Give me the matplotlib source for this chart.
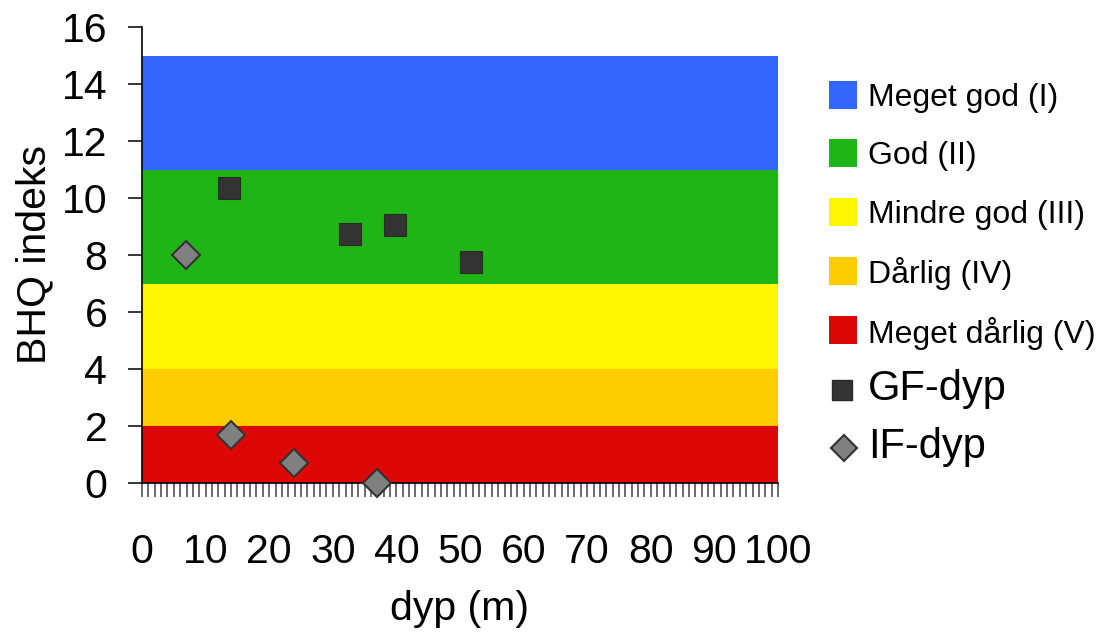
import matplotlib
matplotlib.use("Agg")
import matplotlib.pyplot as plt
from matplotlib.patches import Rectangle
from matplotlib.lines import Line2D

plt.rcParams['font.family'] = ['Liberation Sans', 'DejaVu Sans']

# Quality classes (bands)
class_labels = ["Meget god (I)", "God (II)", "Mindre god (III)", "Dårlig (IV)", "Meget dårlig (V)"]
class_low = [11, 7, 4, 2, 0]
class_high = [15, 11, 7, 4, 2]
class_colors = ["#3366FF", "#1FB516", "#FFF500", "#FFCC00", "#DD0806"]

# Series
gf_x = [13.7, 32.7, 39.8, 51.7]
gf_y = [10.35, 8.74, 9.05, 7.75]
if_x = [6.9, 14.0, 23.9, 36.9]
if_y = [8.0, 1.68, 0.70, 0.0]

W, H = 1102, 632
fig = plt.figure(figsize=(W / 100, H / 100), dpi=100)
ax = fig.add_axes([142 / W, 1 - 483 / H, (778 - 142) / W, (483 - 27) / H])

for lo, hi, c in zip(class_low, class_high, class_colors):
    ax.axhspan(lo, hi, color=c, lw=0, zorder=0)

ax.plot(gf_x, gf_y, ls='none', marker='s', ms=16, mfc='#333333', mec='#2a2a2a',
        mew=0.8, zorder=3, clip_on=False)
ax.plot(if_x, if_y, ls='none', marker='D', ms=14, mfc='#808080', mec='#333333',
        mew=1.5, zorder=3, clip_on=False)

ax.set_xlim(0, 100)
ax.set_ylim(0, 16)
ax.set_xticks(range(0, 101, 10))
ax.set_xticks(range(0, 101, 1), minor=True)
ax.set_yticks(range(0, 17, 2))

for s in ['top', 'right']:
    ax.spines[s].set_visible(False)
for s in ['left', 'bottom']:
    ax.spines[s].set_color('black')
    ax.spines[s].set_linewidth(1.2)

ax.tick_params(axis='x', which='both', direction='out', length=10, width=1.1,
               color='#444444', labelsize=29.5, pad=26)
ax.tick_params(axis='y', which='major', direction='out', length=10, width=1.1,
               color='black', labelsize=29.5, pad=15)
ax.set_xlabel("dyp (m)", fontsize=29.5, labelpad=14)
ax.set_ylabel("BHQ indeks", fontsize=29.5, labelpad=6)

# Legend (manual)
patch_centers = [95, 153, 212, 271, 330]
for yc, lab, c in zip(patch_centers, class_labels, class_colors):
    fig.add_artist(Rectangle((829 / W, 1 - (yc + 14) / H), 28 / W, 28 / H,
                             transform=fig.transFigure, color=c, lw=0))
    fig.text(868 / W, 1 - (yc + 3) / H, lab, fontsize=23, va='center', ha='left')

fig.add_artist(Line2D([842 / W], [1 - 390 / H], marker='s', ms=15, mfc='#333333',
                      mec='#2a2a2a', ls='none', transform=fig.transFigure))
fig.text(868 / W, 1 - 389 / H, "GF-dyp", fontsize=30, va='center', ha='left')
fig.add_artist(Line2D([844 / W], [1 - 448 / H], marker='D', ms=13, mfc='#808080',
                      mec='#333333', mew=1.5, ls='none', transform=fig.transFigure))
fig.text(868 / W, 1 - 447 / H, "IF-dyp", fontsize=30, va='center', ha='left')

fig.savefig("out.png", dpi=100)
